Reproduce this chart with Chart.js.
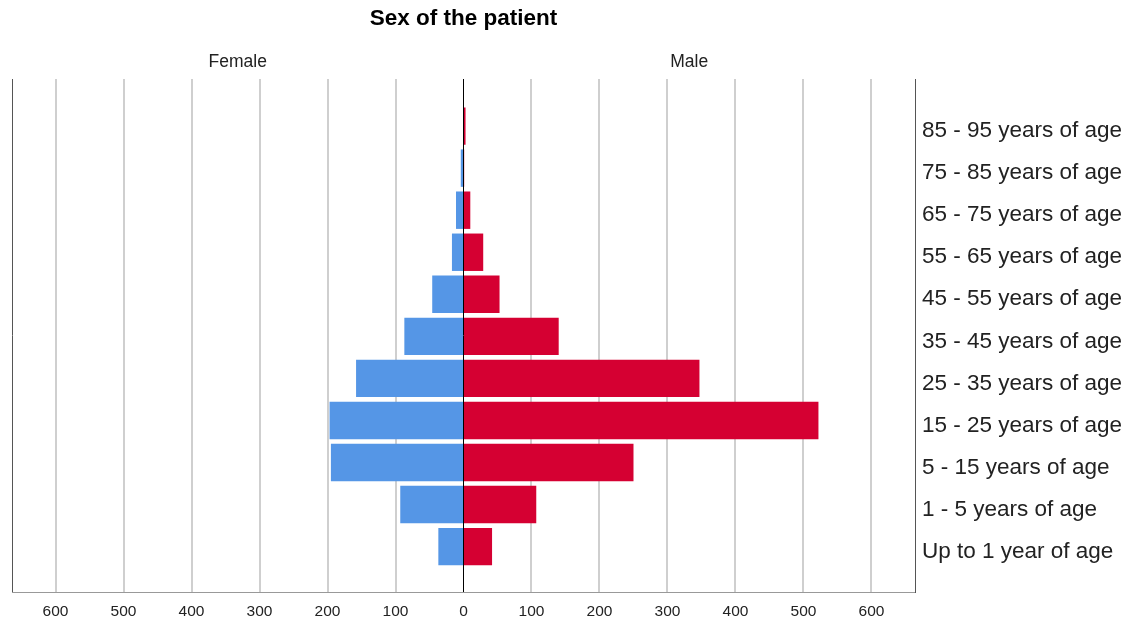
<!DOCTYPE html>
<html>
<head>
<meta charset="utf-8">
<script src="https://cdn.jsdelivr.net/npm/chart.js@4"></script>
<style>
  html, body { margin: 0; padding: 0; background: #fff; }
  #wrap { width: 1130px; height: 622px; }
</style>
</head>
<body>
<div id="wrap"><canvas id="pyramid"></canvas></div>
<script>
// age groups, bottom to top
const ageGroups = [
    'Up to 1 year of age', '1 - 5 years of age', '5 - 15 years of age',
    '15 - 25 years of age', '25 - 35 years of age', '35 - 45 years of age',
    '45 - 55 years of age', '55 - 65 years of age', '65 - 75 years of age',
    '75 - 85 years of age', '85 - 95 years of age'
];
const femaleCounts = [37, 93, 195, 197, 158, 87, 46, 17, 11, 4, 0];
const maleCounts = [42, 107, 250, 522, 347, 140, 53, 29, 10, 1, 3];
const countTicks = [-600, -500, -400, -300, -200, -100, 0, 100, 200, 300, 400, 500, 600];

const FONT = '"Liberation Sans", Arial, sans-serif';

// 제목, 그룹 라벨, 왼쪽 테두리
const headerPlugin = {
    id: 'header',
    afterDraw(chart) {
        const { ctx, chartArea, scales } = chart;
        const x0 = scales.x.getPixelForValue(0);
        ctx.save();
        ctx.strokeStyle = '#555';
        ctx.lineWidth = 1;
        ctx.beginPath();
        ctx.moveTo(chartArea.left + 0.5, chartArea.top);
        ctx.lineTo(chartArea.left + 0.5, chartArea.bottom);
        ctx.stroke();

        ctx.fillStyle = '#000';
        ctx.textAlign = 'center';
        ctx.textBaseline = 'middle';
        ctx.font = 'bold 22.5px ' + FONT;
        ctx.fillText('Sex of the patient', x0, 19);
        ctx.fillStyle = '#222';
        ctx.font = '17.5px ' + FONT;
        ctx.fillText('Female', (chartArea.left + x0) / 2, 62);
        ctx.fillText('Male', (chartArea.right + x0) / 2, 62);
        ctx.restore();
    }
};

const ctx = document.getElementById('pyramid').getContext('2d');
new Chart(ctx, {
    type: 'bar',
    data: {
        datasets: [
            {
                label: 'Female',
                data: femaleCounts.map((v, i) => ({ x: -v, y: i })),
                backgroundColor: '#5596e6',
                barPercentage: 0.89,
                categoryPercentage: 1,
                grouped: false
            },
            {
                label: 'Male',
                data: maleCounts.map((v, i) => ({ x: v, y: i })),
                backgroundColor: '#d50032',
                barPercentage: 0.89,
                categoryPercentage: 1,
                grouped: false
            }
        ]
    },
    options: {
        indexAxis: 'y',
        responsive: true,
        maintainAspectRatio: false,
        animation: false,
        layout: { padding: { top: 79, left: 12, right: 0, bottom: 0 } },
        plugins: {
            legend: { display: false },
            tooltip: { enabled: false }
        },
        scales: {
            x: {
                type: 'linear',
                min: -664,
                max: 664,
                afterBuildTicks: s => { s.ticks = countTicks.map(v => ({ value: v })); },
                afterFit: s => { s.height = 30; },
                border: { display: true, color: '#999', width: 1 },
                grid: {
                    drawTicks: false,
                    color: c => c.tick && c.tick.value === 0 ? '#000' : '#cfcfcf',
                    lineWidth: c => c.tick && c.tick.value === 0 ? 1 : 2
                },
                ticks: {
                    padding: 10,
                    color: '#222',
                    font: { family: FONT, size: 15.5 },
                    callback: v => String(Math.abs(v))
                }
            },
            y: {
                type: 'linear',
                position: 'right',
                offset: false,
                min: -1.08,
                max: 11.12,
                afterBuildTicks: s => { s.ticks = ageGroups.map((g, i) => ({ value: i })); },
                afterFit: s => { s.width = 215; },
                border: { display: true, color: '#555', width: 1 },
                grid: { display: false, drawTicks: false, offset: false },
                ticks: {
                    padding: 7,
                    labelOffset: 5,
                    color: '#222',
                    font: { family: FONT, size: 22.5 },
                    callback: v => ageGroups[v]
                }
            }
        }
    },
    plugins: [headerPlugin]
});
</script>
</body>
</html>
